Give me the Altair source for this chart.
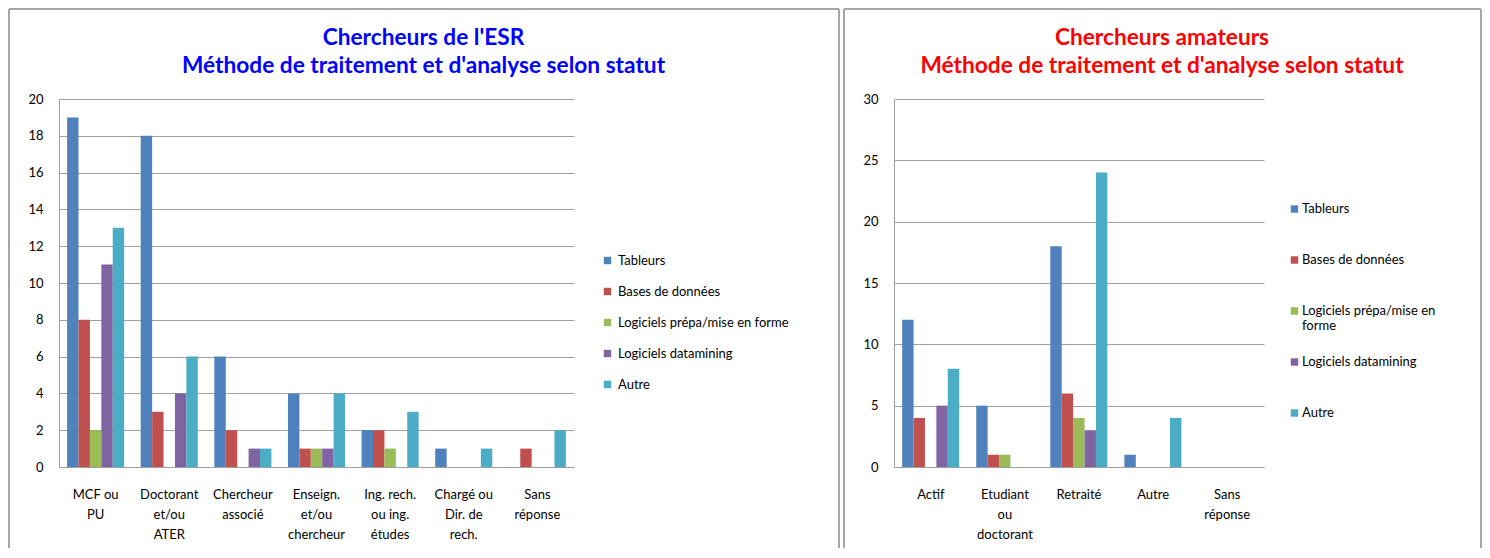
import altair as alt
import pandas as pd

series = ["Tableurs", "Bases de données", "Logiciels prépa/mise en forme",
          "Logiciels datamining", "Autre"]
colors = ["#4F81BD", "#C0504D", "#9BBB59", "#8064A2", "#4BACC6"]

# Chercheurs de l'ESR
esr_cats = ["MCF ou|PU", "Doctorant|et/ou|ATER", "Chercheur|associé",
            "Enseign.|et/ou|chercheur", "Ing. rech.|ou ing.|études",
            "Chargé ou|Dir. de|rech.", "Sans|réponse"]
esr_tableurs = [19, 18, 6, 4, 2, 1, 0]
esr_bases = [8, 3, 2, 1, 2, 0, 1]
esr_prepa = [2, 0, 0, 1, 1, 0, 0]
esr_datamining = [11, 4, 1, 1, 0, 0, 0]
esr_autre = [13, 6, 1, 4, 3, 1, 2]

# Chercheurs amateurs
ama_cats = ["Actif", "Etudiant|ou|doctorant", "Retraité", "Autre", "Sans|réponse"]
ama_tableurs = [12, 5, 18, 1, 0]
ama_bases = [4, 1, 6, 0, 0]
ama_prepa = [0, 1, 4, 0, 0]
ama_datamining = [5, 0, 3, 0, 0]
ama_autre = [8, 0, 24, 4, 0]

esr_title = "Chercheurs de l'ESR\nMéthode de traitement et d'analyse selon statut"
ama_title = "Chercheurs amateurs\nMéthode de traitement et d'analyse selon statut"

FONT = "Lato"
GRID = "#A0A0A0"
BORDER = "#A6A6A6"


def make_df(cats, cols):
    rows = []
    for s, vals in zip(series, cols):
        for c, v in zip(cats, vals):
            rows.append({"Catégorie": c, "Série": s, "Valeur": v})
    return pd.DataFrame(rows)


def panel(cats, cols, ymax, ystep, title, tcolor, width, lx, ly, bright,
          manual_legend):
    df = make_df(cats, cols)
    color_scale = alt.Scale(domain=series, range=colors)
    if manual_legend:
        legend = None
    else:
        legend = alt.Legend(title=None, orient="none", legendX=lx, legendY=ly,
                            symbolType="square", symbolSize=55,
                            symbolStrokeWidth=0, labelFont=FONT,
                            labelFontSize=13, labelColor="#000",
                            labelLimit=400, labelOffset=4, rowPadding=17)
    bars = alt.Chart(df).mark_bar().encode(
        x=alt.X("Catégorie:N", sort=cats,
                scale=alt.Scale(paddingInner=0.225, paddingOuter=0.11),
                axis=alt.Axis(title=None, labelAngle=0, ticks=False,
                              domainColor=GRID, domainWidth=1,
                              labelExpr="split(datum.label, '|')",
                              labelLineHeight=20, labelBaseline="top",
                              labelPadding=21, labelFont=FONT, labelFontSize=13,
                              labelColor="#000", labelLimit=300,
                              labelOverlap=False)),
        xOffset=alt.XOffset("Série:N", sort=series,
                            scale=alt.Scale(paddingInner=0, paddingOuter=0)),
        y=alt.Y("Valeur:Q", scale=alt.Scale(domain=[0, ymax], nice=False),
                axis=alt.Axis(title=None, values=list(range(0, ymax + 1, ystep)),
                              grid=True, gridColor=GRID, domainColor=GRID,
                              ticks=False, labelFont=FONT, labelFontSize=13,
                              labelColor="#000", labelPadding=16)),
        color=alt.Color("Série:N", sort=series, scale=color_scale, legend=legend),
    )
    one = pd.DataFrame({"t": [title]})
    ttl = alt.Chart(one).mark_text(font=FONT, fontSize=22.7, fontWeight="bold",
                                   color=tcolor, lineBreak="\n", lineHeight=28,
                                   align="center", baseline="middle").encode(
        text="t:N", x=alt.value(bright / 2 - 25.5), y=alt.value(-61))
    bd = pd.DataFrame({"k": [0]})
    top = alt.Chart(bd).mark_rule(color=BORDER, strokeWidth=2).encode(
        x=alt.value(-50), x2=alt.value(bright), y=alt.value(-90))
    left = alt.Chart(bd).mark_rule(color=BORDER, strokeWidth=2).encode(
        x=alt.value(-50), y=alt.value(-90), y2=alt.value(449))
    right = alt.Chart(bd).mark_rule(color=BORDER, strokeWidth=2).encode(
        x=alt.value(bright), y=alt.value(-90), y2=alt.value(449))
    layers = [bars, ttl, top, left, right]
    if manual_legend:
        ld = pd.DataFrame({"Série": series})
        ly_enc = alt.Y("Série:N", sort=series,
                       scale=alt.Scale(type="point", range=[ly, ly + 204],
                                       padding=0),
                       axis=None)
        sq = alt.Chart(ld).mark_square(size=55, opacity=1).encode(
            x=alt.value(lx + 3.5), y=ly_enc,
            color=alt.Color("Série:N", sort=series, scale=color_scale,
                            legend=None))
        tx = alt.Chart(ld).transform_calculate(
            lab="datum['Série'] == 'Logiciels prépa/mise en forme' ? "
                "'Logiciels prépa/mise en\\nforme' : datum['Série']"
        ).mark_text(font=FONT, fontSize=13, color="#000", align="left",
                    baseline="middle", lineBreak="\n", lineHeight=15).encode(
            x=alt.value(lx + 11), y=ly_enc, text="lab:N")
        legend_layer = alt.layer(sq, tx)
        return alt.layer(alt.layer(*layers), legend_layer).resolve_scale(
            y="independent").properties(width=width, height=368)
    return alt.layer(*layers).properties(width=width, height=368)


left_panel = panel(esr_cats,
                   [esr_tableurs, esr_bases, esr_prepa, esr_datamining, esr_autre],
                   20, 2, esr_title, "#0000FF", 515, 542, 155, 780, False)
right_panel = panel(ama_cats,
                    [ama_tableurs, ama_bases, ama_prepa, ama_datamining, ama_autre],
                    30, 5, ama_title, "#FF0000", 370, 397, 110, 587, True)

chart = alt.hconcat(left_panel, right_panel, spacing=3, padding=0).resolve_scale(
    color="independent", x="independent", y="independent"
).resolve_legend(color="independent").configure_view(stroke=None)

chart.save("out.html", embed_options={"renderer": "svg", "actions": False})
